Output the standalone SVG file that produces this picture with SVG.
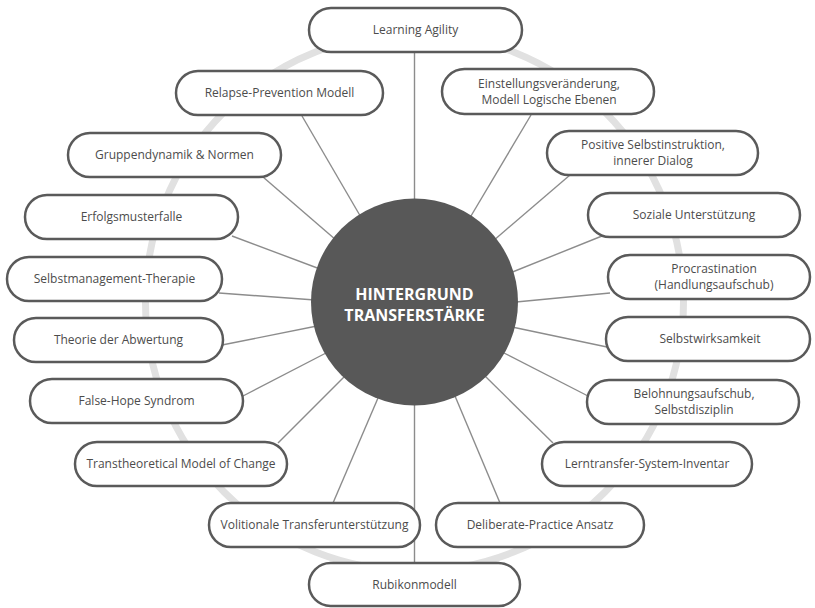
<svg xmlns="http://www.w3.org/2000/svg" width="815" height="608" viewBox="0 0 815 608">
  <style>
    .ring { fill: none; stroke: #e1e1e1; stroke-width: 7; }
    .box { fill: #ffffff; stroke: #5a5a5a; stroke-width: 2.5; }
    .lbl { font-family: "Open Sans", "Liberation Sans", sans-serif; font-size: 12px; fill: #4c4c4c; text-anchor: middle; }
    .edge { stroke: #8c8c8c; stroke-width: 1.4; fill: none; }
    .hub { fill: #585858; }
    .hubtxt { font-family: "Open Sans", "Liberation Sans", sans-serif; font-size: 16px; font-weight: bold; fill: #ffffff; text-anchor: middle; }
  </style>

  <rect width="815" height="608" fill="#ffffff"/>

  <!-- background ring -->
  <circle class="ring" cx="414.5" cy="302" r="269"/>

  <!-- connectors -->
  <g id="connectors">
    <line class="edge" x1="414.5" y1="52" x2="414.5" y2="205"/>
    <line class="edge" x1="302" y1="116" x2="362" y2="219"/>
    <line class="edge" x1="531" y1="115" x2="468" y2="221"/>
    <line class="edge" x1="263" y1="177" x2="336" y2="240"/>
    <line class="edge" x1="570" y1="175" x2="493" y2="241"/>
    <line class="edge" x1="232" y1="236" x2="320" y2="269"/>
    <line class="edge" x1="602" y1="236" x2="510" y2="273"/>
    <line class="edge" x1="219" y1="293" x2="315" y2="300"/>
    <line class="edge" x1="610" y1="293" x2="516" y2="302"/>
    <line class="edge" x1="222" y1="345" x2="317" y2="326"/>
    <line class="edge" x1="607" y1="347" x2="512" y2="327"/>
    <line class="edge" x1="243" y1="396" x2="326" y2="353"/>
    <line class="edge" x1="588" y1="396" x2="504" y2="353"/>
    <line class="edge" x1="278" y1="443" x2="346" y2="375"/>
    <line class="edge" x1="553" y1="443" x2="485" y2="376"/>
    <line class="edge" x1="333" y1="503" x2="378" y2="398"/>
    <line class="edge" x1="500" y1="503" x2="455" y2="396"/>
    <line class="edge" x1="414.5" y1="400" x2="414.5" y2="564"/>
  </g>

  <!-- central node -->
  <g id="hub">
    <circle class="hub" cx="414.5" cy="302" r="103.5"/>
    <text class="hubtxt" x="414.5" y="300">HINTERGRUND</text>
    <text class="hubtxt" x="414.5" y="321">TRANSFERSTÄRKE</text>
  </g>

  <!-- outer nodes -->
  <g id="n-learning-agility">
    <rect class="box" x="309" y="8" width="213" height="44" rx="22"/>
    <text class="lbl" x="415.5" y="34">Learning Agility</text>
  </g>
  <g id="n-relapse">
    <rect class="box" x="176" y="71" width="207" height="44" rx="22"/>
    <text class="lbl" x="279.5" y="97">Relapse-Prevention Modell</text>
  </g>
  <g id="n-einstellung">
    <rect class="box" x="442" y="69" width="212" height="45" rx="22.5"/>
    <text class="lbl" x="549" y="87.5">Einstellungsveränderung,</text>
    <text class="lbl" x="549" y="104">Modell Logische Ebenen</text>
  </g>
  <g id="n-gruppendynamik">
    <rect class="box" x="68" y="133" width="213" height="44" rx="22"/>
    <text class="lbl" x="174.5" y="159">Gruppendynamik &amp; Normen</text>
  </g>
  <g id="n-positive">
    <rect class="box" x="547" y="131" width="211" height="44" rx="22"/>
    <text class="lbl" x="653" y="148.5">Positive Selbstinstruktion,</text>
    <text class="lbl" x="653" y="165">innerer Dialog</text>
  </g>
  <g id="n-erfolgsmusterfalle">
    <rect class="box" x="25" y="195" width="213" height="44" rx="22"/>
    <text class="lbl" x="131.5" y="221">Erfolgsmusterfalle</text>
  </g>
  <g id="n-soziale">
    <rect class="box" x="588" y="193" width="212" height="44" rx="22"/>
    <text class="lbl" x="694" y="219">Soziale Unterstützung</text>
  </g>
  <g id="n-selbstmanagement">
    <rect class="box" x="7" y="257" width="215" height="44" rx="22"/>
    <text class="lbl" x="114.5" y="283">Selbstmanagement-Therapie</text>
  </g>
  <g id="n-procrastination">
    <rect class="box" x="608" y="255" width="202" height="44" rx="22"/>
    <text class="lbl" x="714" y="272.5">Procrastination</text>
    <text class="lbl" x="714" y="289">(Handlungsaufschub)</text>
  </g>
  <g id="n-abwertung">
    <rect class="box" x="14" y="318" width="209" height="44" rx="22"/>
    <text class="lbl" x="118.5" y="344">Theorie der Abwertung</text>
  </g>
  <g id="n-selbstwirksamkeit">
    <rect class="box" x="606" y="317" width="204" height="44" rx="22"/>
    <text class="lbl" x="710" y="343">Selbstwirksamkeit</text>
  </g>
  <g id="n-false-hope">
    <rect class="box" x="30" y="379" width="213" height="44" rx="22"/>
    <text class="lbl" x="136.5" y="405">False-Hope Syndrom</text>
  </g>
  <g id="n-belohnung">
    <rect class="box" x="587" y="380" width="212" height="44" rx="22"/>
    <text class="lbl" x="694" y="397.5">Belohnungsaufschub,</text>
    <text class="lbl" x="694" y="414">Selbstdisziplin</text>
  </g>
  <g id="n-transtheoretical">
    <rect class="box" x="75" y="442" width="212" height="44" rx="22"/>
    <text class="lbl" x="181" y="468">Transtheoretical Model of Change</text>
  </g>
  <g id="n-lerntransfer">
    <rect class="box" x="542" y="442" width="210" height="44" rx="22"/>
    <text class="lbl" x="647" y="468">Lerntransfer-System-Inventar</text>
  </g>
  <g id="n-volitionale">
    <rect class="box" x="209" y="503" width="211" height="44" rx="22"/>
    <text class="lbl" x="314.5" y="529">Volitionale Transferunterstützung</text>
  </g>
  <g id="n-deliberate">
    <rect class="box" x="436" y="503" width="208" height="44" rx="22"/>
    <text class="lbl" x="540" y="529">Deliberate-Practice Ansatz</text>
  </g>
  <g id="n-rubikon">
    <rect class="box" x="309" y="563" width="211" height="43" rx="21.5"/>
    <text class="lbl" x="414.5" y="589">Rubikonmodell</text>
  </g>
</svg>
